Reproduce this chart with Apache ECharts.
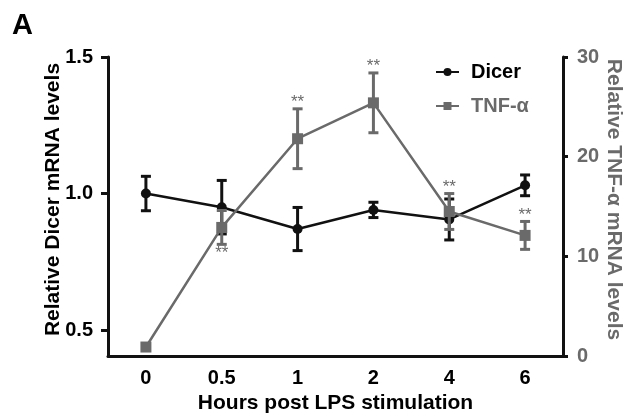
<!DOCTYPE html>
<html>
<head>
<meta charset="utf-8">
<script src="https://cdn.jsdelivr.net/npm/echarts@6/dist/echarts.min.js"></script>
<style>
  html, body { margin: 0; padding: 0; background: #fff; }
  #chart { width: 626px; height: 420px; }
</style>
</head>
<body>
<div id="chart"></div>
<script>
// time points (hours after LPS)
const hours = ['0', '0.5', '1', '2', '4', '6'];

// Dicer, left axis
const dicerMean = [1.0, 0.95, 0.87, 0.94, 0.905, 1.03];
const dicerErr = [0.063, 0.098, 0.079, 0.028, 0.075, 0.038];

// TNF-a, right axis
const tnfMean = [0.9, 12.9, 21.8, 25.4, 14.5, 12.1];
const tnfErr = [0, 1.7, 3.0, 3.0, 1.8, 1.4];
// significance marks: 1 = above the bar, -1 = below
const tnfSig = [0, -1, 1, 1, 1, 1];

const leftTicks = [0.5, 1.0, 1.5];

const black = '#111';
const gray = '#6a6a6a';
const font = 'Liberation Sans, Arial, sans-serif';

function errBars(color, withStars) {
  return function (params, api) {
    const i = api.value(0);
    const m = api.value(1);
    const e = api.value(2);
    const top = api.coord([i, m + e]);
    const bot = api.coord([i, m - e]);
    const w = 5;
    const st = { stroke: color, lineWidth: 3 };
    const kids = [];
    if (e > 0) {
      kids.push(
        { type: 'line', shape: { x1: top[0], y1: top[1], x2: bot[0], y2: bot[1] }, style: st },
        { type: 'line', shape: { x1: top[0] - w, y1: top[1], x2: top[0] + w, y2: top[1] }, style: st },
        { type: 'line', shape: { x1: bot[0] - w, y1: bot[1], x2: bot[0] + w, y2: bot[1] }, style: st }
      );
    }
    if (withStars && tnfSig[params.dataIndex] !== 0) {
      const up = tnfSig[params.dataIndex] > 0;
      kids.push({
        type: 'text',
        style: {
          text: '**',
          x: top[0],
          y: up ? top[1] + 2 : bot[1],
          align: 'center',
          verticalAlign: up ? 'bottom' : 'top',
          fill: gray,
          font: '17px ' + font
        }
      });
    }
    return { type: 'group', children: kids };
  };
}

const chart = echarts.init(document.getElementById('chart'));
chart.setOption({
  animation: false,
  backgroundColor: '#fff',
  textStyle: { fontFamily: font },
  title: {
    text: 'A',
    left: 7,
    top: 6,
    textStyle: { fontSize: 29, fontWeight: 'bold', color: '#000', fontFamily: font }
  },
  grid: { left: 108, right: 63, top: 57, bottom: 64, outerBoundsMode: 'none' },
  legend: {
    left: 430,
    top: 57,
    orient: 'vertical',
    itemWidth: 23,
    itemHeight: 10,
    itemGap: 14,
    data: [
      { name: 'Dicer', textStyle: { color: '#000' } },
      { name: 'TNF-α', textStyle: { color: gray } }
    ],
    textStyle: { fontSize: 20, fontWeight: 'bold', fontFamily: font, padding: [0, 0, 0, 7] }
  },
  xAxis: {
    type: 'category',
    data: hours,
    boundaryGap: true,
    name: 'Hours post LPS stimulation',
    nameLocation: 'middle',
    nameGap: 36,
    nameTextStyle: { fontSize: 21, fontWeight: 'bold', color: '#000' },
    axisLine: { lineStyle: { color: black, width: 3 } },
    axisTick: { alignWithLabel: true, length: 6, lineStyle: { color: black, width: 3 } },
    axisLabel: { fontSize: 20, fontWeight: 'bold', color: '#000', margin: 12 }
  },
  yAxis: [
    {
      type: 'value',
      min: 0.405,
      max: 1.5,
      name: 'Relative Dicer mRNA levels',
      nameLocation: 'middle',
      nameGap: 44,
      nameMoveOverlap: false,
      nameTextStyle: { fontSize: 21, fontWeight: 'bold', color: '#000', padding: [0, 0, 0, 14] },
      axisLine: { show: true, lineStyle: { color: black, width: 3 } },
      axisTick: { show: true, length: 7, customValues: leftTicks, lineStyle: { color: black, width: 3 } },
      axisLabel: {
        fontSize: 20, fontWeight: 'bold', color: '#000', margin: 15,
        customValues: leftTicks,
        formatter: v => v.toFixed(1)
      },
      splitLine: { show: false }
    },
    {
      type: 'value',
      min: 0,
      max: 30,
      interval: 10,
      position: 'right',
      name: 'Relative TNF-α mRNA levels',
      nameLocation: 'middle',
      nameRotate: -90,
      nameGap: 40,
      nameMoveOverlap: false,
      nameTextStyle: { fontSize: 21, fontWeight: 'bold', color: gray, padding: [0, 14, 0, 0] },
      axisLine: { show: true, lineStyle: { color: black, width: 3 } },
      axisTick: { show: true, length: 5, lineStyle: { color: black, width: 3 } },
      axisLabel: { fontSize: 20, fontWeight: 'bold', color: gray, margin: 14 },
      splitLine: { show: false }
    }
  ],
  series: [
    {
      type: 'custom',
      name: 'dicerErr',
      yAxisIndex: 0,
      renderItem: errBars(black, false),
      data: dicerMean.map((m, i) => [i, m, dicerErr[i]]),
      z: 2
    },
    {
      name: 'Dicer',
      type: 'line',
      yAxisIndex: 0,
      data: dicerMean,
      symbol: 'circle',
      symbolSize: 10,
      lineStyle: { color: black, width: 2.5 },
      itemStyle: { color: black },
      z: 3
    },
    {
      type: 'custom',
      name: 'tnfErr',
      yAxisIndex: 1,
      renderItem: errBars(gray, true),
      data: tnfMean.map((m, i) => [i, m, tnfErr[i]]),
      z: 4
    },
    {
      name: 'TNF-α',
      type: 'line',
      yAxisIndex: 1,
      data: tnfMean,
      symbol: 'rect',
      symbolSize: 11,
      lineStyle: { color: gray, width: 2.5 },
      itemStyle: { color: gray },
      z: 5
    }
  ]
});
</script>
</body>
</html>
